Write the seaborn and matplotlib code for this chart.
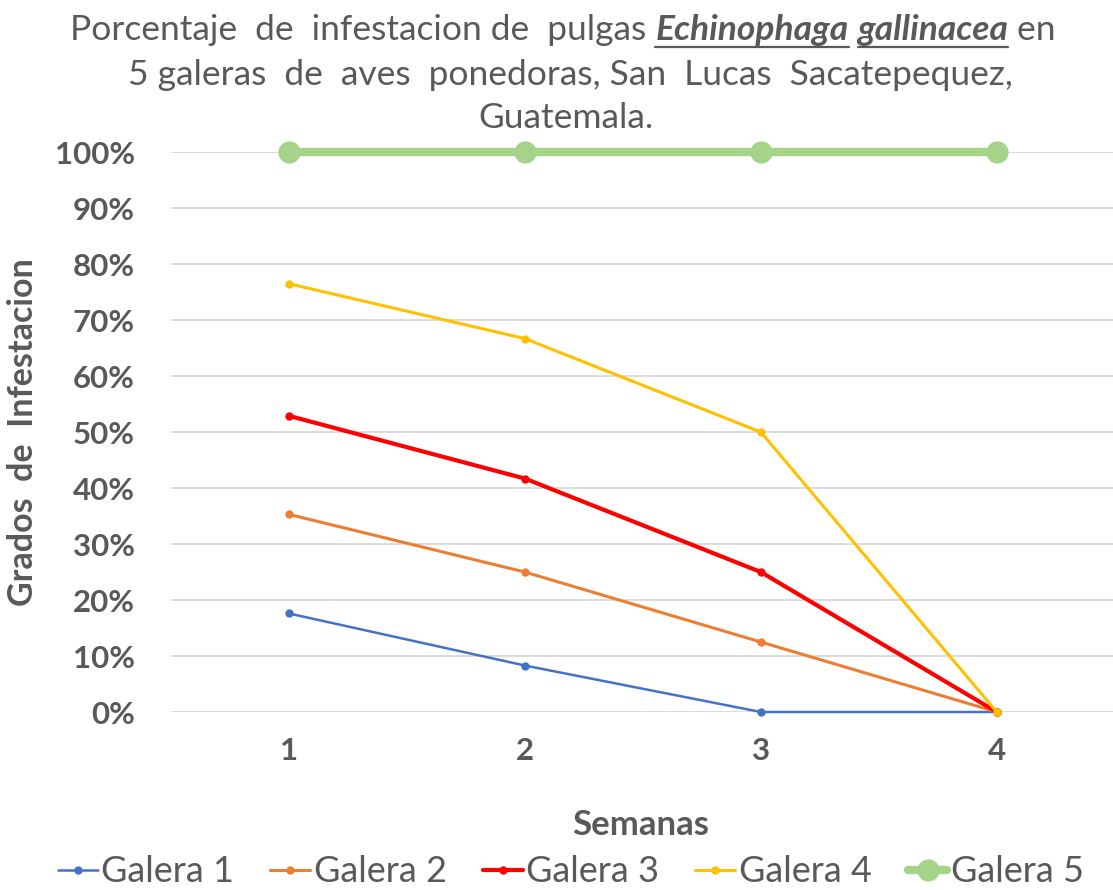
import pandas as pd
import seaborn as sns
import matplotlib.pyplot as plt
from matplotlib.lines import Line2D

COLOR = "#595959"
sns.set_theme(style="white")
plt.rcParams["font.family"] = ["Lato", "DejaVu Sans"]
plt.rcParams["text.color"] = COLOR

semanas = [1, 2, 3, 4]
galera_1 = [0.176, 0.083, 0.0, 0.0]
galera_2 = [0.353, 0.25, 0.125, 0.0]
galera_3 = [0.529, 0.417, 0.25, 0.0]
galera_4 = [0.765, 0.667, 0.50, 0.0]
galera_5 = [1.0, 1.0, 1.0, 1.0]
nombres = ["Galera 1", "Galera 2", "Galera 3", "Galera 4", "Galera 5"]
y_ticks = [0.0, 0.1, 0.2, 0.3, 0.4, 0.5, 0.6, 0.7, 0.8, 0.9, 1.0]
y_labels = ["0%", "10%", "20%", "30%", "40%", "50%", "60%", "70%", "80%", "90%", "100%"]

df = pd.DataFrame({
    "semana": semanas * 5,
    "valor": galera_1 + galera_2 + galera_3 + galera_4 + galera_5,
    "galera": [n for n in nombres for _ in semanas],
})

colors = {"Galera 1": "#4472C4", "Galera 2": "#ED7D31", "Galera 3": "#FF0000",
          "Galera 4": "#FFC000", "Galera 5": "#A5D38A"}
widths = {"Galera 1": 1.8, "Galera 2": 2.2, "Galera 3": 3.0, "Galera 4": 2.2, "Galera 5": 6.0}
msizes = {"Galera 1": 6, "Galera 2": 6, "Galera 3": 6, "Galera 4": 6, "Galera 5": 16}

fig = plt.figure(figsize=(11.13, 8.9), dpi=100)
ax = fig.add_axes([0.1536, 0.2, 0.848, 0.629])

for g in nombres:
    sns.lineplot(data=df[df.galera == g], x="semana", y="valor", color=colors[g],
                 lw=widths[g], marker="o", markersize=msizes[g], markeredgewidth=0,
                 ax=ax, clip_on=False, zorder=3)

ax.set_xlim(0.5, 4.5)
ax.set_ylim(0, 1)
ax.set_xticks(semanas, labels=[str(s) for s in semanas])
ax.set_yticks(y_ticks, labels=y_labels)
ax.grid(True, axis="y", color="#D9D9D9", lw=1.3)
ax.grid(False, axis="x")
sns.despine(ax=ax, left=True, bottom=True)
ax.tick_params(axis="both", length=0, colors=COLOR, labelsize=22.5)
ax.tick_params(axis="x", pad=18)
ax.tick_params(axis="y", pad=26)
ax.set_xlabel("Semanas", fontsize=25, fontweight="bold", color=COLOR)
ax.set_ylabel("Grados  de  Infestacion", fontsize=24.5, fontweight="bold", color=COLOR)
ax.xaxis.set_label_coords(0.498, -0.202)
ax.yaxis.set_label_coords(-0.157, 0.5)
ax.xaxis.label.set_va("center")
ax.yaxis.label.set_va("center")

# title: three lines, with bold italic underlined species name
fs = 25.5
pieces = [("Porcentaje  de  infestacion de  pulgas ", "normal", "normal", False),
          ("Echinophaga", "bold", "italic", True),
          (" ", "normal", "normal", False),
          ("gallinacea", "bold", "italic", True),
          (" en", "normal", "normal", False)]
fig.canvas.draw()
renderer = fig.canvas.get_renderer()
for lab in ax.get_xticklabels() + ax.get_yticklabels():
    lab.set_fontweight("bold")
texts = []
for s, w, st, u in pieces:
    t = fig.text(0, 1 - 30 / 890, s, fontsize=fs, fontweight=w, style=st,
                 va="center", ha="left", color=COLOR)
    texts.append((t, u))
widths_px = [t.get_window_extent(renderer).width for t, _ in texts]
total = sum(widths_px)
x = 563 - total / 2
for (t, u), wpx in zip(texts, widths_px):
    t.set_x(x / 1113)
    if u:
        fig.add_artist(Line2D([x / 1113, (x + wpx) / 1113], [1 - 47 / 890, 1 - 47 / 890],
                              color=COLOR, lw=1.6, transform=fig.transFigure))
    x += wpx
fig.text(570 / 1113, 1 - 75 / 890, "5 galeras  de  aves  ponedoras, San  Lucas  Sacatepequez,",
         fontsize=fs, ha="center", va="center", color=COLOR)
fig.text(566 / 1113, 1 - 118 / 890, "Guatemala.", fontsize=fs, ha="center", va="center",
         color=COLOR)

handles = [Line2D([], [], color=colors[g], lw=widths[g], marker="o",
                  markersize=msizes[g], markeredgewidth=0) for g in nombres]
fig.legend(handles, nombres, loc="center", bbox_to_anchor=(571 / 1113, 1 - 872 / 890), ncol=5,
           frameon=False, fontsize=26, handlelength=1.1, handletextpad=0.1,
           columnspacing=1.0, borderpad=0)

plt.savefig("out.png", dpi=100)
